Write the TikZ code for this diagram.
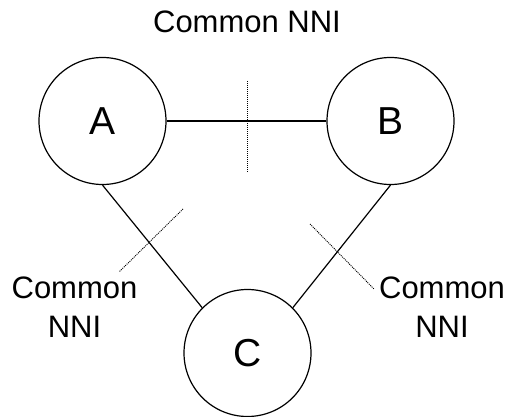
\documentclass[tikz,border=0pt]{standalone}
\usepackage{fontspec}
\setmainfont{Liberation Sans}
\begin{document}
\begin{tikzpicture}[x=1pt,y=-1pt,
  site/.style={draw,circle,line width=1.2pt,minimum size=127pt,inner sep=0pt,font=\fontsize{39}{45}\selectfont},
  link/.style={line width=1.2pt},
  cut/.style={line width=0.9pt,dash pattern=on 1pt off 1pt},
  lbl/.style={font=\fontsize{31}{39}\selectfont,align=center,inner sep=0pt}]
\useasboundingbox (0,0) rectangle (508,417);
\node[site] (A) at (102.5,121) {A};
\node[site] (B) at (390.5,121) {B};
\node[site] (C) at (247.5,353) {C};
\draw[link] (A) -- (B);
\draw[link] (A.south) -- (C.135);
\draw[link] (B.south) -- (C.45);
\coordinate (t1) at (247,81);
\coordinate (t2) at (247,173);
\coordinate (l1) at (183,209);
\coordinate (l2) at (119,272);
\coordinate (r1) at (310,224);
\coordinate (r2) at (374,289);
\draw[cut] (t1) -- (t2);
\draw[cut] (l1) -- (l2);
\draw[cut] (r1) -- (r2);
\node[lbl,anchor=base] (top) at (247,33) {Common NNI};
\node[lbl,anchor=base] (left) at (74.5,337) {Common\\NNI};
\node[lbl,anchor=base] (right) at (442,337) {Common\\NNI};
\end{tikzpicture}
\end{document}
